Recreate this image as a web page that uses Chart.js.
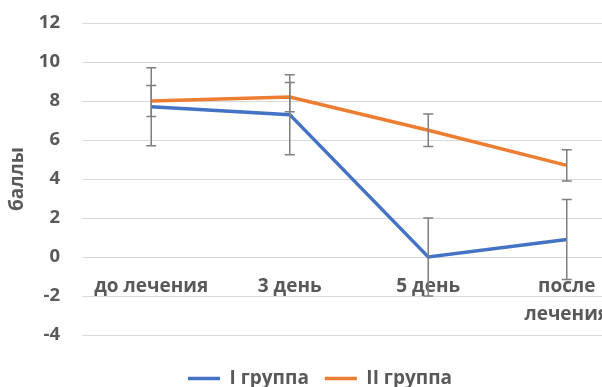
<!DOCTYPE html>
<html>
<head>
<meta charset="utf-8">
<script src="https://cdn.jsdelivr.net/npm/chart.js@4"></script>
<style>
  html, body { margin: 0; padding: 0; background: #fff; }
  #wrap { width: 602px; height: 387px; overflow: hidden; }
</style>
</head>
<body>
<div id="wrap"><canvas id="chartScores" width="640" height="387"></canvas></div>
<script>
var categories = ['до лечения', '3 день', '5 день', ['после', 'лечения']];
var groupOne = [7.7, 7.3, 0.0, 0.9];
var groupOneErr = [2.0, 2.05, 2.0, 2.05];
var groupTwo = [8.0, 8.2, 6.5, 4.7];
var groupTwoErr = [0.8, 0.75, 0.83, 0.8];
var yTicks = [-4, -2, 0, 2, 4, 6, 8, 10, 12];

var textColor = '#595959';
Chart.defaults.font.family = '"Open Sans", sans-serif';

// вертикальные погрешности поверх линий
const errorBars = {
    id: 'errorBars',
    afterDatasetsDraw(chart) {
        const ctx = chart.ctx;
        const x = chart.scales.x;
        const y = chart.scales.y;
        const errs = [groupOneErr, groupTwoErr];
        ctx.save();
        ctx.strokeStyle = '#7f7f7f';
        ctx.lineWidth = 1.5;
        chart.data.datasets.forEach((ds, d) => {
            ds.data.forEach((v, i) => {
                const px = x.getPixelForValue(i);
                const top = y.getPixelForValue(v + errs[d][i]);
                const bot = y.getPixelForValue(v - errs[d][i]);
                ctx.beginPath();
                ctx.moveTo(px, top); ctx.lineTo(px, bot);
                ctx.moveTo(px - 5, top); ctx.lineTo(px + 5, top);
                ctx.moveTo(px - 5, bot); ctx.lineTo(px + 5, bot);
                ctx.stroke();
            });
        });
        ctx.restore();
    }
};

const cs = document.getElementById('chartScores');
const chartScores = new Chart(cs, {
    type: 'line',
    plugins: [errorBars],
    data: {
        labels: categories,
        datasets: [
            {
                label: 'I группа',
                data: groupOne,
                borderColor: '#4472C4',
                backgroundColor: '#4472C4',
                borderWidth: 3.5,
                pointRadius: 0,
                tension: 0,
            },
            {
                label: 'II группа',
                data: groupTwo,
                borderColor: '#ED7D31',
                backgroundColor: '#ED7D31',
                borderWidth: 3.5,
                pointRadius: 0,
                tension: 0,
            },
        ],
    },
    options: {
        responsive: false,
        animation: false,
        layout: {
            padding: { top: 23, left: 4, right: 4, bottom: 0 },
        },
        scales: {
            x: {
                position: { y: 0 },
                offset: true,
                grid: { display: false, drawTicks: false },
                border: { display: false },
                ticks: {
                    color: textColor,
                    padding: 15,
                    maxRotation: 0,
                    autoSkip: false,
                    font: { size: 19, weight: 'bold', lineHeight: 1.5 },
                },
            },
            y: {
                min: -4,
                max: 12,
                afterBuildTicks: (axis) => {
                    axis.ticks = yTicks.map((v) => ({ value: v }));
                },
                afterFit: (axis) => {
                    axis.width = 78;
                    axis.paddingTop = 0;
                    axis.paddingBottom = 0;
                },
                grid: { color: '#d9d9d9', lineWidth: 1, drawTicks: false },
                border: { display: false },
                ticks: {
                    color: textColor,
                    padding: 22,
                    font: { size: 18.5, weight: 'bold' },
                },
                title: {
                    display: true,
                    text: 'баллы',
                    color: textColor,
                    padding: { top: 2, bottom: 4 },
                    font: { size: 19, weight: 'bold' },
                },
            },
        },
        plugins: {
            legend: {
                position: 'bottom',
                maxHeight: 52,
                title: {
                    display: true,
                    text: '',
                    padding: 0,
                    font: { size: 18, lineHeight: 1 },
                },
                labels: {
                    usePointStyle: true,
                    pointStyle: 'line',
                    pointStyleWidth: 32,
                    padding: 16,
                    color: textColor,
                    font: { size: 19, weight: 'bold' },
                },
            },
            tooltip: { enabled: false },
        },
    },
});
</script>
</body>
</html>
